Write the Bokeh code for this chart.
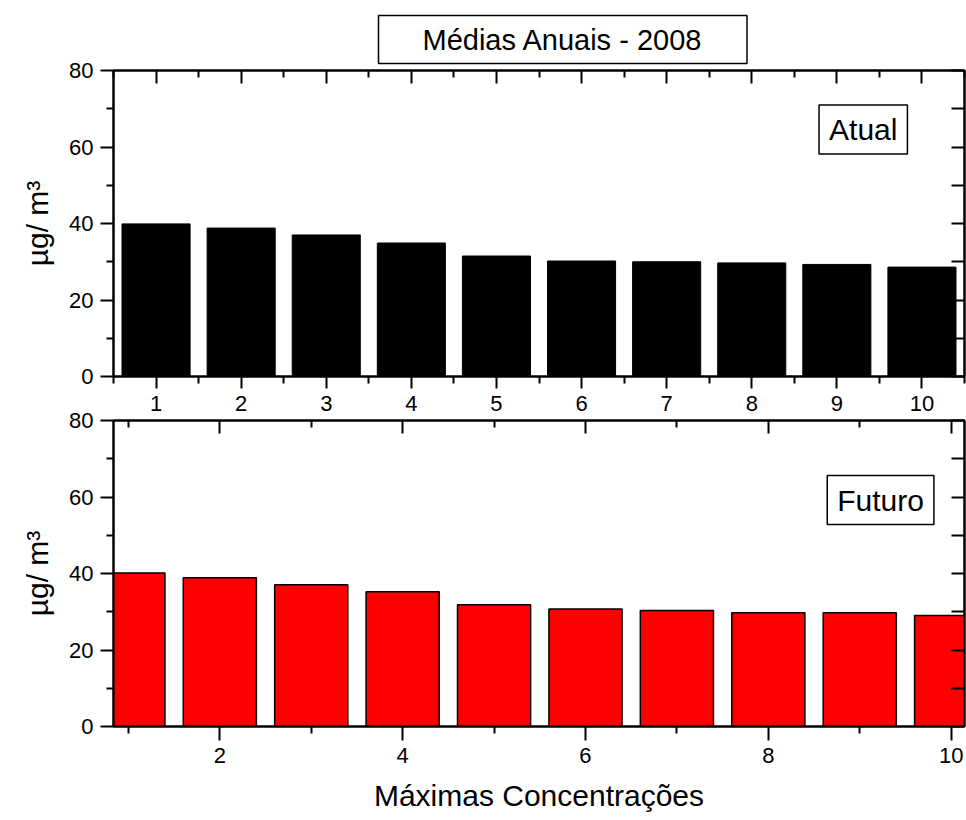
from bokeh.plotting import figure
from bokeh.models import Range1d, FixedTicker, LinearAxis, Label
from bokeh.layouts import column
from bokeh.embed import file_html
from bokeh.resources import INLINE

# ---- data ----
ranks = [1, 2, 3, 4, 5, 6, 7, 8, 9, 10]
atual = [39.9, 38.8, 37.0, 34.9, 31.5, 30.2, 30.0, 29.7, 29.3, 28.6]
futuro = [40.1, 38.9, 37.05, 35.2, 31.8, 30.7, 30.3, 29.75, 29.75, 29.0]

y_major = [0, 20, 40, 60, 80]
y_minor = [10, 30, 50, 70]
y_mirror = [0, 10, 20, 30, 40, 50, 60, 70, 80]
top_x_major = ranks
top_x_minor = [0.5, 1.5, 2.5, 3.5, 4.5, 5.5, 6.5, 7.5, 8.5, 9.5, 10.5]
bot_x_major = [2, 4, 6, 8, 10]
bot_x_minor = [1, 3, 5, 7, 9]

title_text = "Médias Anuais - 2008"
ylabel = "µg/ m³"
xlabel = "Máximas Concentrações"

FONT = "Liberation Sans"


def style_axis(ax, major, minor, tin, tout, min_in, min_out, labels=True):
    ax.ticker = FixedTicker(ticks=major, minor_ticks=minor)
    ax.axis_line_color = "black"
    ax.axis_line_width = 2
    ax.major_tick_line_color = "black"
    ax.major_tick_line_width = 2
    ax.minor_tick_line_color = "black"
    ax.minor_tick_line_width = 2
    ax.major_tick_in = tin
    ax.major_tick_out = tout
    ax.minor_tick_in = min_in
    ax.minor_tick_out = min_out
    if labels:
        ax.major_label_text_font = FONT
        ax.major_label_text_font_size = "22px"
        ax.major_label_text_color = "black"
        ax.major_label_standoff = 7
    else:
        ax.major_label_text_font_size = "1px"
        ax.major_label_text_color = None
        ax.major_label_standoff = 0


def make_fig(height, btop, bbottom, xr):
    p = figure(width=966, height=height, x_range=Range1d(*xr), y_range=Range1d(0, 80),
               output_backend="svg", toolbar_location=None,
               x_axis_location=None, y_axis_location=None,
               min_border_left=113, min_border_right=2,
               min_border_top=btop, min_border_bottom=bbottom)
    p.grid.visible = False
    p.outline_line_color = "black"
    p.outline_line_width = 2
    p.background_fill_color = "white"
    p.border_fill_color = "white"
    la = LinearAxis()
    style_axis(la, y_major, y_minor, 0, 13, 0, 7)
    la.axis_label = ylabel
    la.axis_label_text_font = FONT
    la.axis_label_text_font_size = "30px"
    la.axis_label_text_font_style = "normal"
    la.axis_label_text_color = "black"
    la.axis_label_standoff = 12
    p.add_layout(la, "left")
    ra = LinearAxis()
    style_axis(ra, y_mirror, [], 13, 0, 0, 0, labels=False)
    p.add_layout(ra, "right")
    return p


# ---- top panel ----
p1 = make_fig(418, 70, 42, (0.5, 10.5))
b1 = LinearAxis()
style_axis(b1, top_x_major, top_x_minor, 0, 12, 0, 7)
p1.add_layout(b1, "below")
t1 = LinearAxis()
style_axis(t1, top_x_major, top_x_minor, 13, 0, 7, 0, labels=False)
p1.add_layout(t1, "above")
p1.vbar(x=ranks, top=atual, width=0.8, fill_color="black", line_color="black")

p1.title.text = title_text
p1.title.align = "left"
p1.title.offset = 265
p1.title.standoff = 14
p1.title.text_font = FONT
p1.title.text_font_size = "29px"
p1.title.text_font_style = "normal"
p1.title.text_color = "black"
p1.title.border_line_color = "black"
p1.title.border_line_width = 1.5
p1.title.background_fill_color = "white"
p1.title.padding = (44, 8)

p1.add_layout(Label(x=9.31, y=64.6, text="Atual", text_align="center", text_baseline="middle",
                    text_font=FONT, text_font_size="30px", text_color="black",
                    border_line_color="black", border_line_width=1.5,
                    background_fill_color="white", padding=(10, 8)))

# ---- bottom panel (overlaps the top canvas by 10px, transparent border) ----
p2 = make_fig(412, 12, 94, (0.837, 10.146))
p2.margin = (-10, 0, 0, 0)
p2.border_fill_alpha = 0
b2 = LinearAxis()
style_axis(b2, bot_x_major, bot_x_minor, 0, 14, 0, 7)
b2.axis_label = xlabel
b2.axis_label_text_font = FONT
b2.axis_label_text_font_size = "30px"
b2.axis_label_text_font_style = "normal"
b2.axis_label_text_color = "black"
b2.axis_label_standoff = 13
p2.add_layout(b2, "below")
t2 = LinearAxis()
style_axis(t2, bot_x_major, bot_x_minor, 13, 0, 7, 0, labels=False)
p2.add_layout(t2, "above")
p2.vbar(x=ranks, top=futuro, width=0.8, fill_color="#ff0000", line_color="black", line_width=1.5)
p2.add_layout(Label(x=9.228, y=59.2, text="Futuro", text_align="center", text_baseline="middle",
                    text_font=FONT, text_font_size="30px", text_color="black",
                    border_line_color="black", border_line_width=1.5,
                    background_fill_color="white", padding=(10, 8)))

layout = column(p1, p2, spacing=0)
open("out.html", "w").write(file_html(layout, INLINE))
